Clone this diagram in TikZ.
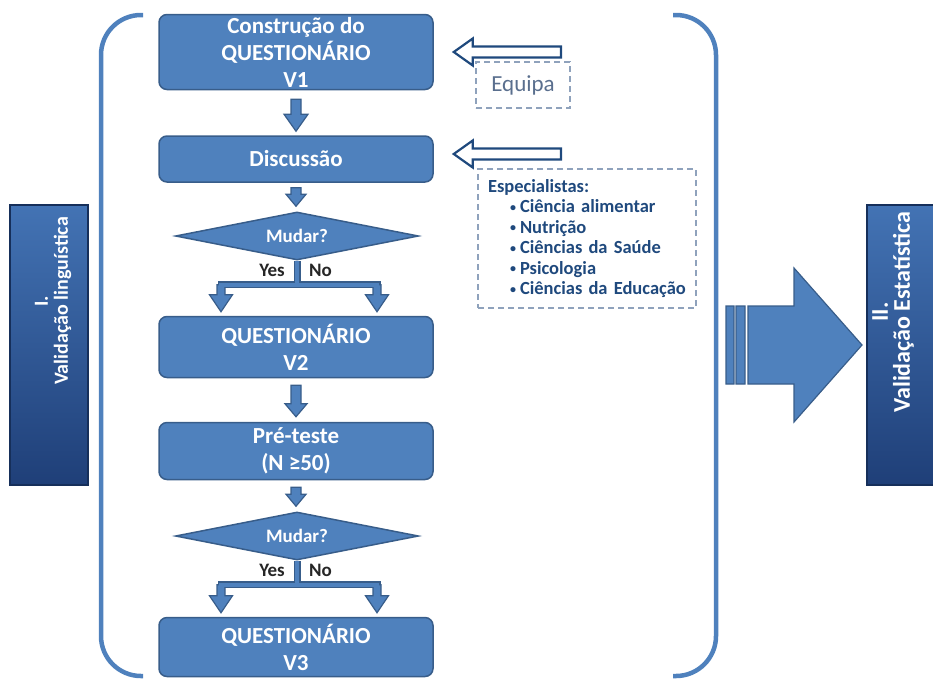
\documentclass[tikz,border=0pt]{standalone}
\usepackage{fontspec}
\setmainfont{Carlito}
\usepackage{tikz}
\usetikzlibrary{calc,shapes.geometric}

\definecolor{azul}{HTML}{4F81BD}
\definecolor{azulborda}{HTML}{385D8A}
\definecolor{azulescuro}{HTML}{1F497D}
\definecolor{tracejado}{HTML}{8FA2BC}
\definecolor{cinzaazul}{HTML}{5A6F8E}
\definecolor{rotuloclaro}{HTML}{4373B4}
\definecolor{rotuloescuro}{HTML}{1F3F78}
\definecolor{rotuloborda}{HTML}{162F5A}

\tikzset{
  etapa/.style={rectangle, rounded corners=8pt, draw=azulborda, line width=1.5pt, fill=azul,
    text=white, font=\bfseries\fontsize{23}{27}\selectfont, align=center,
    minimum width=274pt, inner sep=0pt},
  decisao/.style={diamond, aspect=5, draw=azulborda, line width=1.5pt, fill=azul,
    text=white, font=\bfseries\fontsize{19}{22}\selectfont,
    minimum width=243pt, minimum height=48pt, inner sep=0pt},
  resposta/.style={text=black!85, font=\bfseries\fontsize{19}{22}\selectfont, inner sep=0pt},
  seta/.style={fill=azul, draw=azulborda, line width=1.2pt, line join=miter},
  setaoca/.style={fill=white, draw=azulescuro, line width=2.2pt, line join=miter},
  tracado/.style={draw=tracejado, line width=2pt, dash pattern=on 6pt off 4pt},
  rotulo/.style={rectangle, draw=rotuloborda, line width=2pt,
    top color=rotuloclaro, bottom color=rotuloescuro,
    minimum width=78pt, minimum height=280pt, inner sep=0pt},
  rotulotexto/.style={text=white, font=\bfseries\fontsize{20}{20}\selectfont, align=center,
    rotate=90, inner sep=0pt},
  chave/.style={draw=azul, line width=4.5pt, rounded corners=40pt}
}

% seta de bloco para baixo: topo, ponta, meia haste, meia cabeca, cabeca
\newcommand{\setabaixo}[5]{%
  \filldraw[seta] let \p1=(#1), \p2=(#2) in
    (\x1-#3pt,\y1) -- (\x1+#3pt,\y1) -- (\x1+#3pt,\y2+#5pt) -- (\x1+#4pt,\y2+#5pt)
    -- (\x1,\y2) -- (\x1-#4pt,\y2+#5pt) -- (\x1-#3pt,\y2+#5pt) -- cycle;}
% seta oca para a esquerda: cauda, ponta
\newcommand{\setaesquerda}[2]{%
  \filldraw[setaoca] let \p1=(#1), \p2=(#2) in
    (\x1,\y2+5.5pt) -- (\x2+19pt,\y2+5.5pt) -- (\x2+19pt,\y2+13.5pt) -- (\x2,\y2)
    -- (\x2+19pt,\y2-13.5pt) -- (\x2+19pt,\y2-5.5pt) -- (\x1,\y2-5.5pt) -- cycle;}
% ramos Yes / No: losango, caixa, barra
\newcommand{\ramos}[3]{%
  \coordinate (#3) at ($(#1.south)+(0,24)$);
  \coordinate (#3l) at ($(#3)+(-76,0)$);
  \coordinate (#3r) at ($(#3)+(80,0)$);
  \draw[line width=7pt, azulborda] (#1.south) -- (#3);
  \draw[line width=7pt, azulborda, line cap=rect] (#3l) -- (#3r);
  \setabaixo{#3l}{$(#3l |- #2.north)+(0,-4)$}{4}{11.5}{17}
  \setabaixo{#3r}{$(#3r |- #2.north)+(0,-4)$}{4}{11.5}{17}
  \draw[line width=4.5pt, azul] (#1.south) -- (#3);
  \draw[line width=4.5pt, azul, line cap=rect] (#3l) -- (#3r);
  \node[resposta, anchor=east] (#3sim) at ($(#1.south)+(-12,10)$) {Yes};
  \node[resposta, anchor=west] (#3nao) at ($(#1.south)+(12,10)$) {No};}
\newcommand{\topico}{\hspace*{32pt}\makebox[10pt][l]{\fontsize{12}{12}\selectfont\raisebox{1.5pt}{•}}}

\begin{document}
\begin{tikzpicture}[x=1pt, y=-1pt]
    \useasboundingbox (0,0) rectangle (933,678);
    \clip (0,0) rectangle (933,678);

    % Chaves
    \draw[chave] (143,15) -- (101,15) -- (101,676) -- (143,676);
    \draw[chave] (673,15) -- (716,15) -- (716,676) -- (673,676);

    % Etapas
    \node[etapa, minimum height=75pt] (c1) at (296,52) {Construção do\\QUESTIONÁRIO\\V1};
    \node[etapa, minimum height=46pt] (disc) at (296,159) {Discussão};
    \node[decisao] (d1) at (297,236) {Mudar?};
    \node[etapa, minimum height=61pt] (v2) at (296,347) {QUESTIONÁRIO\\V2};
    \node[etapa, minimum height=57pt] (pre) at (296,451) {Pré-teste\\(N ≥50)};
    \node[decisao] (d2) at (297,536) {Mudar?};
    \node[etapa, minimum height=59pt] (v3) at (296,647) {QUESTIONÁRIO\\V3};

    % Setas
    \setabaixo{$(c1.south)+(0,9)$}{$(disc.north)+(0,-4)$}{5}{12}{17}
    \setabaixo{$(disc.south)+(0,5)$}{$(d1.north)+(0,-5)$}{5}{10}{12}
    \setabaixo{$(v2.south)+(0,7)$}{$(pre.north)+(0,-5)$}{5}{11}{13}
    \setabaixo{$(pre.south)+(0,7)$}{$(d2.north)+(0,-5)$}{5}{10}{12}
    \ramos{d1}{v2}{b1}
    \ramos{d2}{v3}{b2}

    % Equipa e especialistas
    \node[tracado, text=cinzaazul, font=\fontsize{23}{27}\selectfont,
      minimum width=94pt, minimum height=46pt, inner sep=0pt] (equipa) at (523,85) {Equipa};
    \node[tracado, anchor=north west, text=azulescuro, font=\bfseries\fontsize{18.5}{20.5}\selectfont,
      align=left, text width=218pt, inner sep=0pt, minimum height=139pt] (espec) at (477,168)
      {\hspace*{10pt}Especialistas:\\
       \topico Ciência alimentar\\
       \topico Nutrição\\
       \topico Ciências da Saúde\\
       \topico Psicologia\\
       \topico Ciências da Educação};
    \coordinate (eqcauda) at (561,52);
    \coordinate (espcauda) at (561,154);
    \setaesquerda{eqcauda}{$(c1.east)+(20,0)$}
    \setaesquerda{espcauda}{$(disc.east)+(20,-5)$}

    % Rotulos laterais
    \node[rotulo] (rot1) at (49,345) {};
    \node[rotulotexto] (rot1txt) at ($(rot1.center)+(4,-44)$) {I.\\Validação linguística};
    \node[rotulo] (rot2) at (906,345) {};
    \node[rotulotexto, font=\bfseries\fontsize{24}{22}\selectfont] (rot2txt) at ($(rot2.center)+(-13,-33)$)
      {II.\\Validação Estatística};

    % Seta grande
    \filldraw[seta] let \p1=($(rot2.west)+(-4,0)$) in
      (\x1,\y1) -- (\x1-68pt,\y1+77pt) -- (\x1-68pt,\y1+39pt) -- (\x1-114pt,\y1+39pt)
      -- (\x1-114pt,\y1-39pt) -- (\x1-68pt,\y1-39pt) -- (\x1-68pt,\y1-77pt) -- cycle
      (\x1-126pt,\y1-39pt) rectangle (\x1-117pt,\y1+39pt)
      (\x1-136pt,\y1-39pt) rectangle (\x1-128pt,\y1+39pt);
\end{tikzpicture}
\end{document}
